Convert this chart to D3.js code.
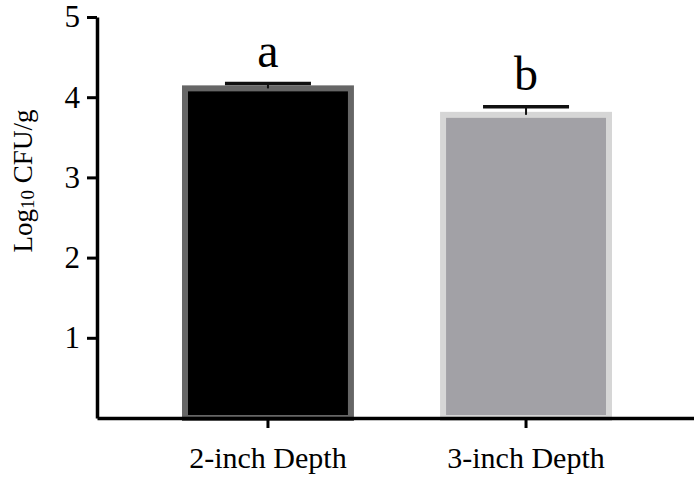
<!DOCTYPE html>
<html>
<head>
<meta charset="utf-8">
<script src="https://cdn.jsdelivr.net/npm/d3@7"></script>
<style>
  body { margin: 0; background: #fff; }
  svg text { font-family: "Liberation Serif", "Times New Roman", serif; fill: #000; }
</style>
</head>
<body>
<script>
var categories = ["2-inch Depth", "3-inch Depth"];
var means = [4.11, 3.78];
var errors = [0.06, 0.10];
var letters = ["a", "b"];
var yTicks = [1, 2, 3, 4, 5];

var fills = ["#000000", "#a2a1a6"];
var strokes = ["#666666", "#d6d6d6"];

var width = 694, height = 481;

var svg = d3.select("body").append("svg")
    .attr("width", width)
    .attr("height", height);

var x = d3.scaleBand()
    .domain(categories)
    .range([97, 697])
    .paddingInner(0.357)
    .paddingOuter(0.341);

var y = d3.scaleLinear()
    .domain([0, 5])
    .range([418, 17]);

var data = categories.map(function(c, i) {
  return { cat: c, mean: means[i], err: errors[i], letter: letters[i], i: i };
});

// bars
svg.selectAll(".bar")
    .data(data)
  .enter().append("rect")
    .attr("class", "bar")
    .attr("x", function(d) { return x(d.cat); })
    .attr("width", x.bandwidth())
    .attr("y", function(d) { return y(d.mean); })
    .attr("height", function(d) { return y(0) - y(d.mean); })
    .attr("fill", function(d) { return fills[d.i]; })
    .attr("stroke", function(d) { return strokes[d.i]; })
    .attr("stroke-width", 6);

// error bars
var capHalf = 43;
svg.selectAll(".stem")
    .data(data)
  .enter().append("line")
    .attr("x1", function(d) { return x(d.cat) + x.bandwidth() / 2; })
    .attr("x2", function(d) { return x(d.cat) + x.bandwidth() / 2; })
    .attr("y1", function(d) { return y(d.mean); })
    .attr("y2", function(d) { return y(d.mean + d.err); })
    .attr("stroke", "#111")
    .attr("stroke-width", 2);

svg.selectAll(".cap")
    .data(data)
  .enter().append("line")
    .attr("x1", function(d) { return x(d.cat) + x.bandwidth() / 2 - capHalf; })
    .attr("x2", function(d) { return x(d.cat) + x.bandwidth() / 2 + capHalf; })
    .attr("y1", function(d) { return y(d.mean + d.err); })
    .attr("y2", function(d) { return y(d.mean + d.err); })
    .attr("stroke", "#111")
    .attr("stroke-width", 3.5);

// significance letters
svg.selectAll(".letter")
    .data(data)
  .enter().append("text")
    .attr("x", function(d) { return x(d.cat) + x.bandwidth() / 2; })
    .attr("y", function(d) { return y(d.mean + d.err) - 17; })
    .attr("text-anchor", "middle")
    .style("font-size", "48px")
    .text(function(d) { return d.letter; });

// axes
var xAxis = d3.axisBottom(x).tickSize(10).tickSizeOuter(0);
var yAxis = d3.axisLeft(y).tickValues(yTicks).tickFormat(d3.format("d"))
    .tickSize(10).tickSizeOuter(0).tickPadding(7);

var gx = svg.append("g")
    .attr("transform", "translate(0," + y(0) + ")")
    .call(xAxis);
gx.selectAll("text")
    .attr("y", 50)
    .attr("dy", null)
    .style("font-size", "30px");

var gy = svg.append("g")
    .attr("transform", "translate(97,0)")
    .call(yAxis);
gy.selectAll("text").style("font-size", "31px");

svg.selectAll(".domain").attr("stroke", "#000").attr("stroke-width", 3.5);
svg.selectAll(".tick line").attr("stroke", "#000").attr("stroke-width", 3);

// y label
var yl = svg.append("text")
    .attr("transform", "translate(32,181) rotate(-90)")
    .attr("text-anchor", "middle")
    .style("font-size", "27px");
yl.append("tspan").text("Log");
yl.append("tspan").style("font-size", "19px").attr("dy", 2).text("10");
yl.append("tspan").attr("dy", -2).text(" CFU/g");
</script>
</body>
</html>
